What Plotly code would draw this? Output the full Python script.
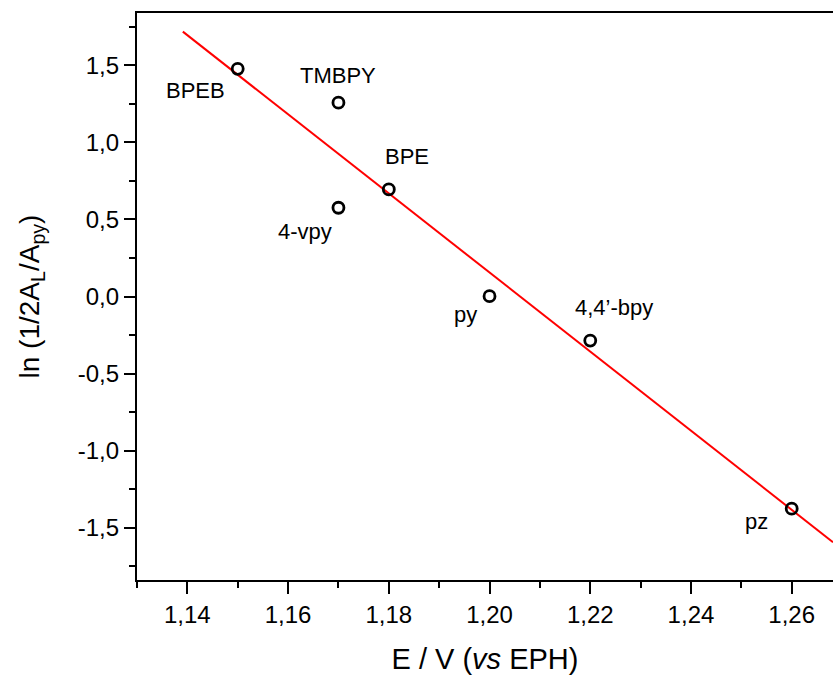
import plotly.graph_objects as go

# Data
ligands = ["BPEB", "TMBPY", "BPE", "4-vpy", "py", "4,4’-bpy", "pz"]
potential = [1.150, 1.170, 1.180, 1.170, 1.200, 1.220, 1.260]
ln_ratio = [1.478, 1.258, 0.695, 0.576, 0.002, -0.286, -1.377]

# linear fit line endpoints
fit_x = [1.1391, 1.2682]
fit_y = [1.719, -1.595]

# label anchor positions (data coords)
label_x = [1.1416, 1.1700, 1.1837, 1.1634, 1.1952, 1.2248, 1.2530]
label_y = [1.338, 1.435, 0.909, 0.422, -0.117, -0.071, -1.461]

x_tick_vals = [1.14, 1.16, 1.18, 1.20, 1.22, 1.24, 1.26]
x_tick_text = ["1,14", "1,16", "1,18", "1,20", "1,22", "1,24", "1,26"]
y_tick_vals = [-1.5, -1.0, -0.5, 0.0, 0.5, 1.0, 1.5]
y_tick_text = ["-1,5", "-1,0", "-0,5", "0,0", "0,5", "1,0", "1,5"]

FONT = "Liberation Sans, Arial, sans-serif"

fig = go.Figure()
fig.add_trace(go.Scatter(x=fit_x, y=fit_y, mode="lines",
                         line=dict(color="#ff0000", width=2), showlegend=False))
fig.add_trace(go.Scatter(x=potential, y=ln_ratio, mode="markers",
                         marker=dict(symbol="circle-open", size=11, color="black",
                                     line=dict(width=2.8, color="black")),
                         showlegend=False))

for t, lx, ly in zip(ligands, label_x, label_y):
    fig.add_annotation(x=lx, y=ly, text=t, showarrow=False,
                       xanchor="center", yanchor="middle",
                       font=dict(family=FONT, size=22, color="black"))

fig.update_layout(
    width=833, height=680,
    margin=dict(l=137, r=0, t=13, b=100),
    paper_bgcolor="white", plot_bgcolor="white",
    font=dict(family=FONT, color="black"),
    xaxis=dict(range=[1.13, 1.2682], showgrid=False, zeroline=False,
               showline=True, linecolor="black", linewidth=2.4, mirror=True,
               ticks="outside", ticklen=12, tickwidth=2, tickcolor="black",
               tickvals=x_tick_vals, ticktext=x_tick_text,
               tickfont=dict(family=FONT, size=24),
               minor=dict(dtick=0.01, tick0=1.13, ticks="outside", ticklen=6,
                          tickwidth=2, tickcolor="black"),
               title=dict(text="E / V (<i>vs</i> EPH)", font=dict(family=FONT, size=29),
                          standoff=22)),
    yaxis=dict(range=[-1.84, 1.84], showgrid=False, zeroline=False,
               showline=True, linecolor="black", linewidth=2.4, mirror=False,
               ticks="outside", ticklen=11, tickwidth=2, tickcolor="black",
               tickvals=y_tick_vals, ticktext=y_tick_text,
               tickfont=dict(family=FONT, size=24),
               minor=dict(dtick=0.25, tick0=0, ticks="outside", ticklen=6,
                          tickwidth=2, tickcolor="black"),
               title=dict(text="ln (1/2A<sub>L</sub>/A<sub>py</sub>)",
                          font=dict(family=FONT, size=28), standoff=30)),
)

fig.write_html("out.html")
